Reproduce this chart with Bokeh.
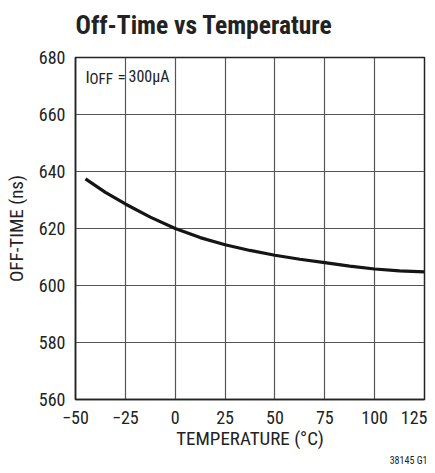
from bokeh.plotting import figure
from bokeh.models import Label, FixedTicker, Range1d, Title
from bokeh.embed import file_html
from bokeh.resources import INLINE

temps = [-45, -35, -25, -12.5, 0, 12.5, 25, 37.5, 50, 62.5, 75, 87.5, 100, 112.5, 125]
off_time = [637.4, 632.7, 628.6, 624.0, 620.0, 616.8, 614.3, 612.3, 610.6, 609.2, 608.0, 606.8, 605.8, 605.1, 604.8]
x_ticks = [-50, -25, 0, 25, 50, 75, 100, 125]
x_labels = {-50: "\u221250", -25: "\u221225"}
y_ticks = [560, 580, 600, 620, 640, 660, 680]

FONT = "'Roboto Condensed', 'DejaVu Sans Condensed', 'Liberation Sans Narrow', Roboto, sans-serif"
INK = "#222222"

p = figure(width=427, height=465, output_backend="svg", toolbar_location=None,
           title=None,
           x_range=Range1d(-50, 125), y_range=Range1d(560, 680),
           min_border_left=75, min_border_right=3, min_border_top=57, min_border_bottom=0)
p.background_fill_color = "white"
p.border_fill_color = "white"
p.outline_line_color = INK
p.outline_line_width = 1.5

p.line(temps, off_time, line_color="#151515", line_width=3.2)

for ax in (p.xaxis[0], p.yaxis[0]):
    ax.major_tick_in = 0
    ax.major_tick_out = 0
    ax.minor_tick_in = 0
    ax.minor_tick_out = 0
    ax.axis_line_color = INK
    ax.axis_line_width = 1.5
    ax.major_label_text_font = FONT
    ax.major_label_text_font_size = "18px"
    ax.major_label_text_color = INK
    ax.axis_label_text_font = FONT
    ax.axis_label_text_font_size = "19px"
    ax.axis_label_text_font_style = "normal"
    ax.axis_label_text_color = INK

p.xaxis.ticker = FixedTicker(ticks=x_ticks)
p.xaxis.major_label_overrides = x_labels
p.xaxis.major_label_standoff = 11
p.xaxis.axis_label = "TEMPERATURE (\u00b0C)"
p.xaxis.axis_label_standoff = 0

p.yaxis.ticker = FixedTicker(ticks=y_ticks)
p.yaxis.major_label_standoff = 10
p.yaxis.axis_label = "OFF-TIME (ns)"
p.yaxis.axis_label_standoff = 8

p.xgrid.ticker = FixedTicker(ticks=x_ticks)
p.ygrid.ticker = FixedTicker(ticks=y_ticks)
p.grid.grid_line_color = "#555555"
p.grid.grid_line_width = 1.2

# spacer between frame and title (first "above" item sits next to the frame)
p.add_layout(Title(text=" ", text_font=FONT, text_font_size="10px", standoff=5), "above")
p.add_layout(Title(text="Off-Time vs Temperature", align="left", text_font=FONT,
                   text_font_size="25.5px", text_font_style="bold",
                   text_color=INK, standoff=0), "above")

p.add_layout(Title(text="38145 G1", align="right", text_font=FONT,
                   text_font_size="10px", text_font_style="normal",
                   text_color=INK, standoff=0, offset=-3), "below")

note_y = 673.3
sub_y = 672.6
p.add_layout(Label(x=10, y=note_y, x_units="screen", y_units="data",
                   text="I", text_font=FONT, text_font_size="17px",
                   text_color=INK, text_baseline="alphabetic"))
p.add_layout(Label(x=14, y=sub_y, x_units="screen", y_units="data",
                   text="OFF", text_font=FONT, text_font_size="15px",
                   text_color=INK, text_baseline="alphabetic"))
p.add_layout(Label(x=42, y=note_y, x_units="screen", y_units="data",
                   text="=", text_font=FONT, text_font_size="17px",
                   text_color=INK, text_baseline="alphabetic"))
p.add_layout(Label(x=53, y=note_y, x_units="screen", y_units="data",
                   text="300\u00b5A", text_font=FONT, text_font_size="16px",
                   text_color=INK, text_baseline="alphabetic"))

open("out.html", "w").write(file_html(p, INLINE))
